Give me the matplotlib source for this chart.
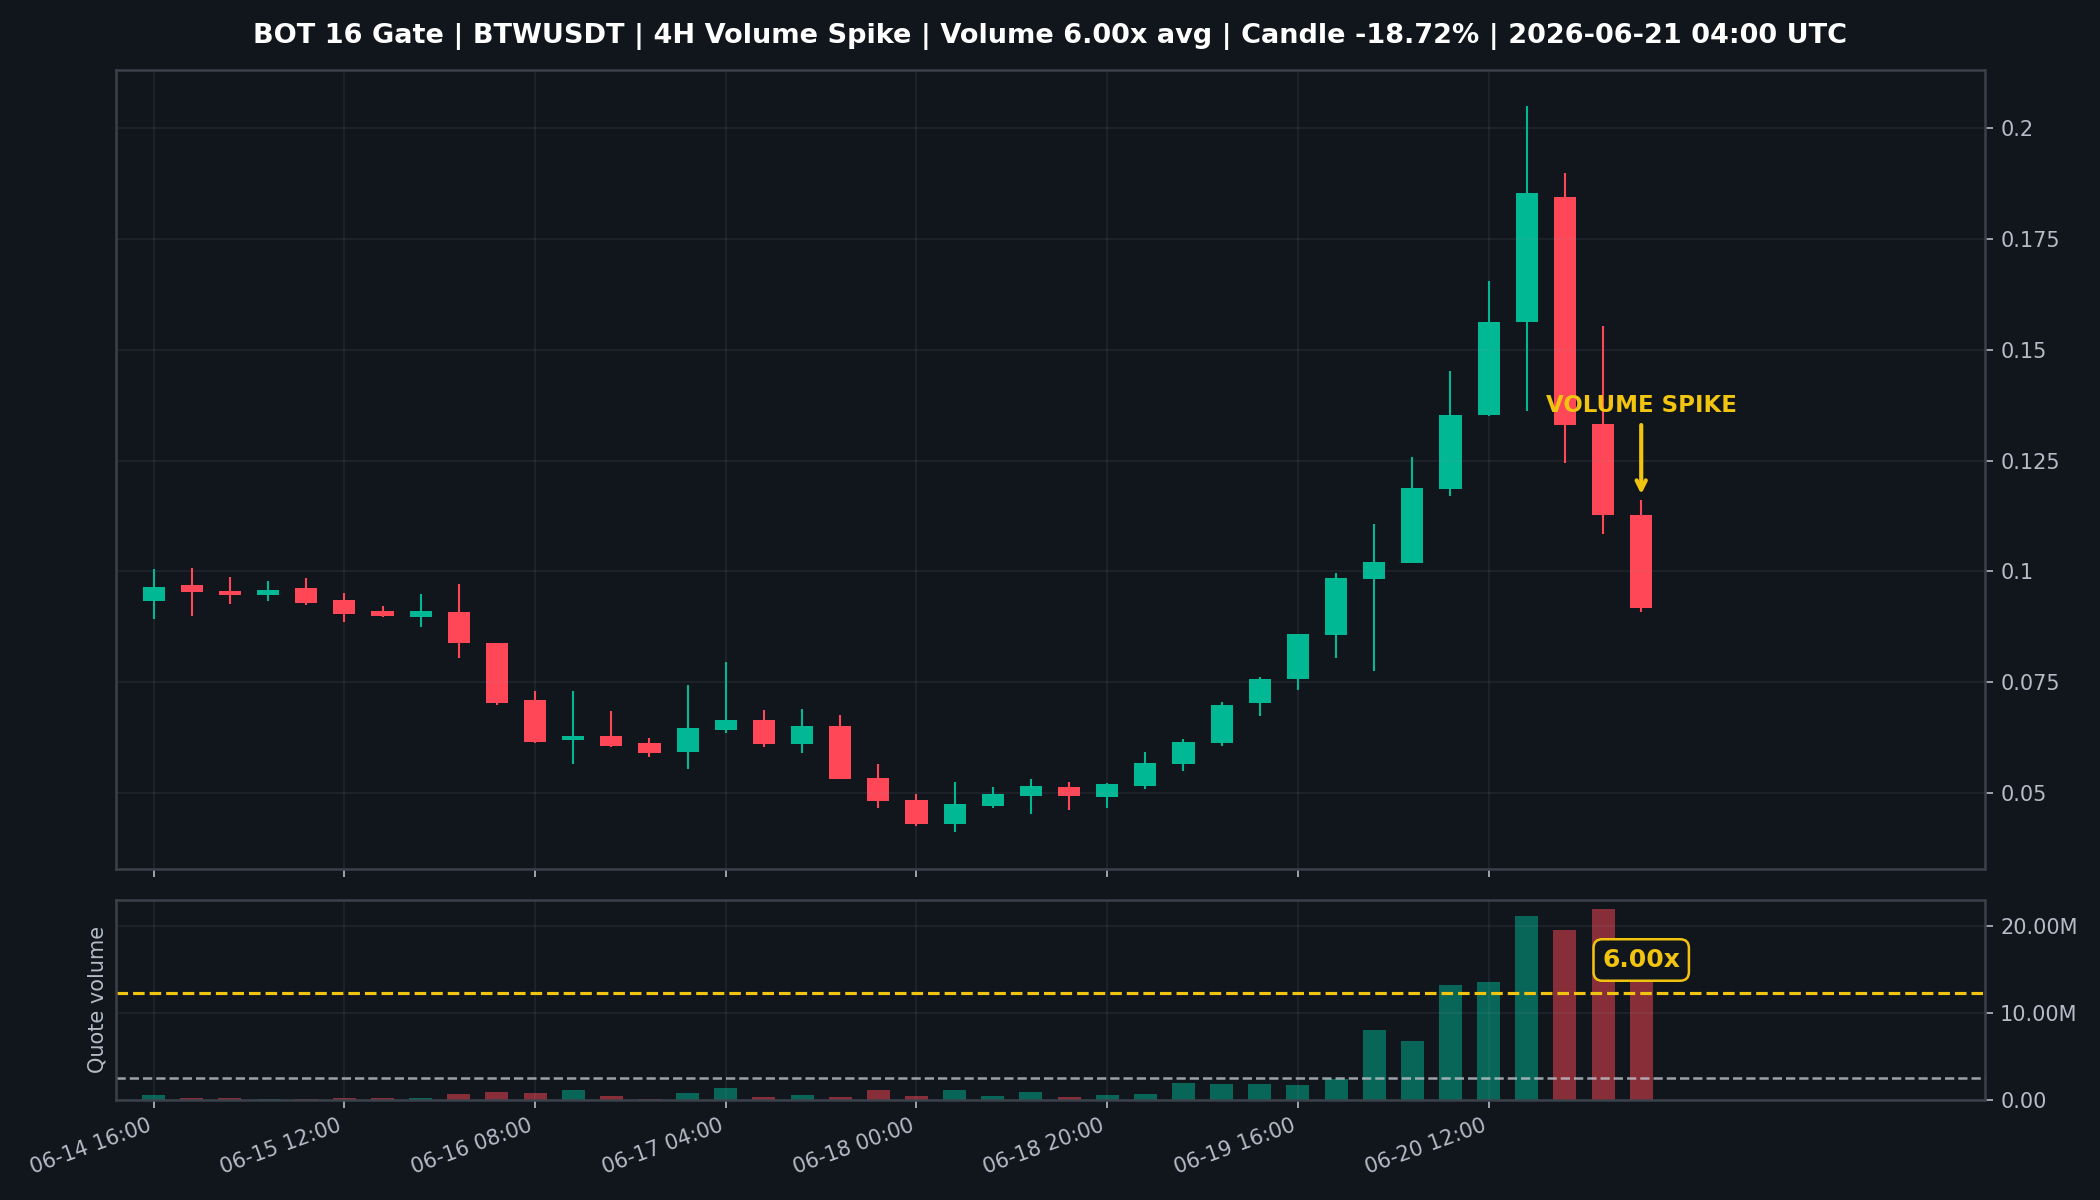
import matplotlib
matplotlib.use("Agg")
import matplotlib.pyplot as plt
from matplotlib.ticker import FuncFormatter, FixedLocator
import numpy as np
import pandas as pd

# 4H candles, values
start_time = "2026-06-14 16:00"
opens = [0.0933, 0.0969, 0.0956, 0.0947, 0.0962, 0.0935, 0.0910, 0.0897, 0.0908, 0.0838,
         0.0710, 0.0618, 0.0627, 0.0613, 0.0591, 0.0641, 0.0663, 0.0609, 0.0651, 0.0534,
         0.0483, 0.0430, 0.0470, 0.0492, 0.0512, 0.0490, 0.0515, 0.0564, 0.0612, 0.0702,
         0.0756, 0.0856, 0.0982, 0.1018, 0.1185, 0.1352, 0.1562, 0.1846, 0.1333, 0.1128]
highs = [0.1004, 0.1007, 0.0987, 0.0978, 0.0984, 0.0951, 0.0921, 0.0948, 0.0971, 0.0838,
         0.0730, 0.0730, 0.0685, 0.0624, 0.0744, 0.0795, 0.0687, 0.0690, 0.0676, 0.0564,
         0.0498, 0.0525, 0.0512, 0.0530, 0.0525, 0.0521, 0.0591, 0.0622, 0.0705, 0.0762,
         0.0859, 0.0996, 0.1107, 0.1257, 0.1453, 0.1656, 0.2051, 0.1900, 0.1553, 0.1161]
lows = [0.0892, 0.0899, 0.0926, 0.0933, 0.0924, 0.0885, 0.0897, 0.0874, 0.0805, 0.0697,
        0.0612, 0.0564, 0.0604, 0.0580, 0.0553, 0.0634, 0.0602, 0.0589, 0.0531, 0.0466,
        0.0425, 0.0412, 0.0465, 0.0452, 0.0461, 0.0465, 0.0508, 0.0549, 0.0606, 0.0672,
        0.0732, 0.0805, 0.0775, 0.1018, 0.1170, 0.1350, 0.1363, 0.1245, 0.1085, 0.0907]
closes = [0.0964, 0.0954, 0.0947, 0.0957, 0.0929, 0.0904, 0.0899, 0.0910, 0.0839, 0.0702,
          0.0614, 0.0629, 0.0606, 0.0589, 0.0647, 0.0663, 0.0609, 0.0651, 0.0531, 0.0481,
          0.0430, 0.0474, 0.0496, 0.0514, 0.0492, 0.0519, 0.0568, 0.0615, 0.0699, 0.0756,
          0.0859, 0.0985, 0.1021, 0.1188, 0.1354, 0.1562, 0.1855, 0.1330, 0.1128, 0.0917]
# quote volume in millions
volumes_m = [0.57, 0.19, 0.19, 0.05, 0.05, 0.19, 0.19, 0.19, 0.69, 0.92,
             0.80, 1.15, 0.46, 0.08, 0.80, 1.38, 0.34, 0.57, 0.34, 1.07,
             0.46, 1.07, 0.46, 0.92, 0.34, 0.57, 0.69, 1.95, 1.84, 1.84,
             1.72, 2.41, 8.05, 6.78, 13.20, 13.56, 21.15, 19.54, 21.95, 14.70]
avg_volume_m = 2.45
spike_mult = 5.0

title = ("BOT 16 Gate | BTWUSDT | 4H Volume Spike | Volume 6.00x avg | "
         "Candle -18.72% | 2026-06-21 04:00 UTC")

BG = "#11151c"
GREEN = "#00b894"
RED = "#ff4757"
YELLOW = "#f1c40f"
TXT = "#b4bcc8"
SPINE = "#3b414b"

o = np.array(opens); h = np.array(highs); l = np.array(lows); c = np.array(closes)
vol = np.array(volumes_m) * 1e6
times = pd.date_range(start_time, periods=len(o), freq="4h")
x = np.arange(len(o))
up = c >= o
colors = np.where(up, GREEN, RED)

fig = plt.figure(figsize=(14, 8), dpi=150, facecolor=BG)
gs = fig.add_gridspec(2, 1, height_ratios=[4, 1], hspace=0.062,
                      left=0.055, right=0.945, top=0.942, bottom=0.0837)
ax = fig.add_subplot(gs[0])
axv = fig.add_subplot(gs[1], sharex=ax)

for a in (ax, axv):
    a.set_facecolor(BG)
    for s in a.spines.values():
        s.set_color(SPINE)
        s.set_linewidth(1.2)
    a.tick_params(colors=TXT, labelsize=10, length=4)
    a.yaxis.tick_right()
    a.grid(True, color="#8b949e", alpha=0.12, linewidth=0.8)

# candles
ax.vlines(x, l, h, colors=colors, linewidth=1.0, zorder=2)
ax.bar(x, np.abs(c - o), bottom=np.minimum(o, c), width=0.58, color=colors, zorder=1)
ax.set_ylim(0.0328, 0.2133)
ax.set_xlim(-1, len(o) + 8)
ax.yaxis.set_major_formatter(FuncFormatter(lambda v, p: f"{v:g}"))
ax.tick_params(labelbottom=False)

# volume spike annotation on last candle
last = len(o) - 1
ax.annotate("VOLUME SPIKE", xy=(last, 0.1174), xytext=(last, 0.1375),
            ha="center", va="center", color=YELLOW, fontsize=11, fontweight="bold",
            arrowprops=dict(arrowstyle="->", color=YELLOW, lw=2, shrinkB=0), zorder=5)

# volume
axv.bar(x, vol, width=0.6, color=colors, alpha=0.5)
axv.axhline(avg_volume_m * 1e6, color="#c0c4cc", linestyle="--", linewidth=1.2, alpha=0.8)
axv.axhline(avg_volume_m * spike_mult * 1e6, color=YELLOW, linestyle="--", linewidth=1.5)
axv.set_ylim(0, vol.max() * 1.05)
axv.yaxis.set_major_locator(FixedLocator([0, 10e6, 20e6]))
axv.yaxis.set_major_formatter(FuncFormatter(lambda v, p: "0.00" if v == 0 else f"{v/1e6:.2f}M"))
axv.set_ylabel("Quote volume", color=TXT, fontsize=10)
axv.text(last, 16.1e6, f"{vol[last] / (avg_volume_m * 1e6):.2f}x", ha="center", va="center",
         color=YELLOW, fontsize=12, fontweight="bold",
         bbox=dict(boxstyle="round,pad=0.35", fc=BG, ec=YELLOW, lw=1.2), zorder=5)

tick_idx = x[::5]
axv.set_xticks(tick_idx)
axv.set_xticklabels([times[i].strftime("%m-%d %H:%M") for i in tick_idx],
                    rotation=20, ha="right")

fig.suptitle(title, color="white", fontsize=13, fontweight="bold", y=0.981)

fig.savefig("out.png", dpi=150, facecolor=BG)
